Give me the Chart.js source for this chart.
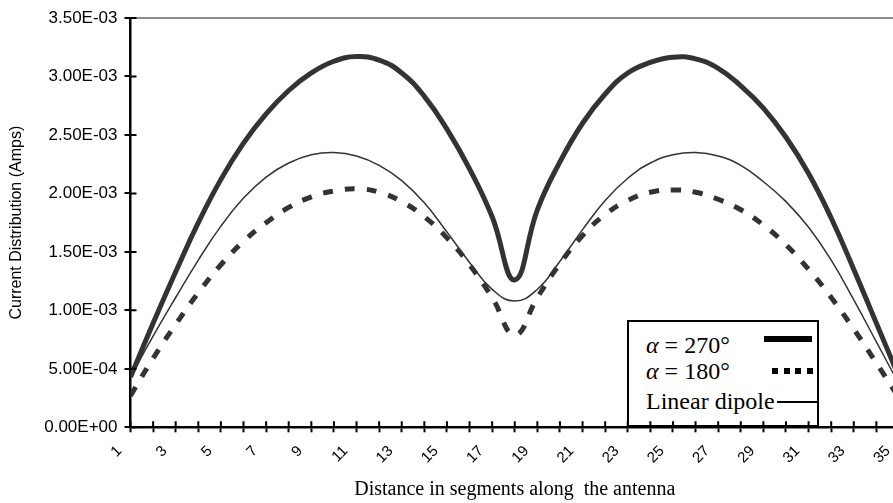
<!DOCTYPE html>
<html>
<head>
<meta charset="utf-8">
<script src="https://cdn.jsdelivr.net/npm/chart.js@4.4.1/dist/chart.umd.min.js"></script>
<style>
  html, body { margin: 0; padding: 0; background: #fff; overflow: hidden; }
  #wrap { position: relative; width: 893px; height: 503px; overflow: hidden; }
  #chart { position: absolute; left: 0; top: 0; z-index: 2; }
  #legendBox {
    position: absolute; left: 627px; top: 320px; width: 192px; height: 107px;
    box-sizing: border-box; border: 2px solid #000; background: #fff; z-index: 1;
    font-family: "Liberation Serif", "Times New Roman", serif; font-size: 24px; color: #000;
  }
  .row { position: absolute; left: 17px; line-height: 24px; white-space: nowrap; }
  .row i { font-style: italic; }
  .swatch { position: absolute; }
</style>
</head>
<body>
<div id="wrap">
  <div id="legendBox">
    <div class="row" style="top: 11px;"><i>α</i> = 270°</div>
    <div class="row" style="top: 37px;"><i>α</i> = 180°</div>
    <div class="row" style="top: 67px;">Linear dipole</div>
    <div class="swatch" style="left: 135px; top: 14px; width: 48px; height: 6px; background: #000;"></div>
    <div class="swatch" style="left: 143px; top: 46px; width: 41px; height: 6px; background: repeating-linear-gradient(90deg, #000 0 6px, transparent 6px 11.67px);"></div>
    <div class="swatch" style="left: 148px; top: 79px; width: 41px; height: 1.5px; background: #000;"></div>
  </div>
  <canvas id="chart" width="900" height="503"></canvas>
</div>
<script>
const segments = [1, 2, 3, 4, 5, 6, 7, 8, 9, 10, 11, 12, 13, 14, 15, 16, 17, 18, 19, 20, 21, 22, 23, 24, 25, 26, 27, 28, 29, 30, 31, 32, 33, 34, 35];

// α = 270°
const alpha270 = [
  0.00043, 0.00089, 0.00133, 0.00175, 0.00212, 0.00243, 0.00268, 0.00288, 0.00303, 0.00313,
  0.00317, 0.00314, 0.00303, 0.00283, 0.00255, 0.00221, 0.00180, 0.00126, 0.00186, 0.00227,
  0.00260, 0.00285, 0.00303, 0.00312, 0.003165, 0.00315, 0.00307, 0.00292, 0.00273, 0.00248,
  0.00217, 0.00179, 0.00135, 0.00089, 0.00043,
];

// α = 180°
const alpha180 = [
  0.00027, 0.00059, 0.00088, 0.00115, 0.00139, 0.00159, 0.00175, 0.00188, 0.00197, 0.00202,
  0.00204, 0.00201, 0.00193, 0.00180, 0.00162, 0.00139, 0.00111, 0.00079, 0.00111, 0.00140,
  0.00164, 0.00182, 0.00194, 0.00201, 0.00203, 0.00201, 0.00195, 0.00186, 0.00173, 0.00156,
  0.00135, 0.00111, 0.00084, 0.00055, 0.00025,
];

// Linear dipole
const linearDipole = [
  0.00043, 0.00078, 0.00111, 0.00143, 0.00172, 0.00196, 0.00214, 0.00226, 0.00233, 0.00235,
  0.00232, 0.00224, 0.00211, 0.00192, 0.00167, 0.00141, 0.00118, 0.00108, 0.00118, 0.00142,
  0.00169, 0.00194, 0.00213, 0.00226, 0.00233, 0.00235, 0.00232, 0.00224, 0.00210, 0.00193,
  0.00171, 0.00143, 0.00109, 0.00073, 0.00037,
];

const yTicks = [0, 0.0005, 0.001, 0.0015, 0.002, 0.0025, 0.003, 0.0035];

function toPoints(values) {
  return segments.map((s, i) => ({ x: s, y: values[i] }));
}

// 3.50E-03 形式
function sci(v) {
  if (Math.abs(v) < 1e-12) return "0.00E+00";
  const e = Math.floor(Math.log10(Math.abs(v)) + 1e-9);
  const m = v / Math.pow(10, e);
  const sign = e < 0 ? "-" : "+";
  return m.toFixed(2) + "E" + sign + String(Math.abs(e)).padStart(2, "0");
}

// 軸をまたぐ目盛り（内側の部分）
const crossTicks = {
  id: "crossTicks",
  afterDraw(chart) {
    const { ctx } = chart;
    const x = chart.scales.x;
    const y = chart.scales.y;
    ctx.save();
    ctx.strokeStyle = "#000";
    ctx.lineWidth = 2;
    ctx.beginPath();
    x.ticks.forEach((t) => {
      const px = x.getPixelForValue(t.value);
      ctx.moveTo(px, y.bottom - 6);
      ctx.lineTo(px, y.bottom);
    });
    y.ticks.forEach((t) => {
      const py = y.getPixelForValue(t.value);
      ctx.moveTo(x.left, py);
      ctx.lineTo(x.left + 6, py);
    });
    ctx.stroke();
    ctx.restore();
  },
};

const lineColor = "#333";

new Chart(document.getElementById("chart"), {
  type: "line",
  data: {
    datasets: [
      {
        label: "α = 270°",
        data: toPoints(alpha270),
        borderColor: lineColor,
        borderWidth: 5,
        pointRadius: 0,
        tension: 0.45,
        fill: false,
      },
      {
        label: "α = 180°",
        data: toPoints(alpha180),
        borderColor: lineColor,
        borderWidth: 5,
        borderDash: [10, 12],
        pointRadius: 0,
        tension: 0.45,
        fill: false,
      },
      {
        label: "Linear dipole",
        data: toPoints(linearDipole),
        borderColor: lineColor,
        borderWidth: 1.5,
        pointRadius: 0,
        tension: 0.45,
        fill: false,
      },
    ],
  },
  options: {
    responsive: false,
    animation: false,
    layout: { padding: { top: 18, right: 1, left: 0, bottom: 0 } },
    plugins: {
      legend: { display: false },
      tooltip: { enabled: false },
    },
    scales: {
      x: {
        type: "linear",
        min: 1,
        max: 35,
        afterFit(scale) {
          scale.height = 75.7;
          scale.paddingLeft = 0;
          scale.paddingRight = 0;
        },
        border: { color: "#000", width: 2.5 },
        grid: {
          color: "transparent",
          drawOnChartArea: false,
          drawTicks: true,
          tickLength: 5,
          tickColor: "#000",
          tickWidth: 2,
        },
        ticks: {
          stepSize: 1,
          autoSkip: false,
          minRotation: 45,
          maxRotation: 45,
          padding: 10,
          labelOffset: -11,
          color: "#000",
          font: { family: "'Liberation Sans', Arial, sans-serif", size: 15 },
          callback: (v) => (segments.includes(v) && v % 2 === 1 ? String(v) : ""),
        },
        title: {
          display: true,
          text: "Distance in segments along  the antenna",
          color: "#000",
          font: { family: "'Liberation Serif', 'Times New Roman', serif", size: 20 },
          padding: { top: 0, bottom: 1 },
        },
      },
      y: {
        min: 0,
        max: 0.0035,
        afterFit(scale) {
          scale.width = 130.5;
        },
        afterBuildTicks(scale) {
          scale.ticks = yTicks.map((v) => ({ value: v }));
        },
        border: { color: "#000", width: 2.5 },
        grid: {
          color: (c) => (c.tick && Math.abs(c.tick.value - 0.0035) < 1e-9 ? "#8c8c8c" : "transparent"),
          lineWidth: 2,
          drawTicks: true,
          tickLength: 6,
          tickColor: "#000",
          tickWidth: 2,
        },
        ticks: {
          padding: 7,
          color: "#000",
          font: { family: "'Liberation Sans', Arial, sans-serif", size: 17 },
          callback: (v) => sci(v),
        },
        title: {
          display: true,
          text: "Current Distribution (Amps)",
          color: "#000",
          font: { family: "'Liberation Sans', Arial, sans-serif", size: 16 },
          padding: { top: 7, bottom: 0 },
        },
      },
    },
  },
  plugins: [crossTicks],
});
</script>
</body>
</html>
